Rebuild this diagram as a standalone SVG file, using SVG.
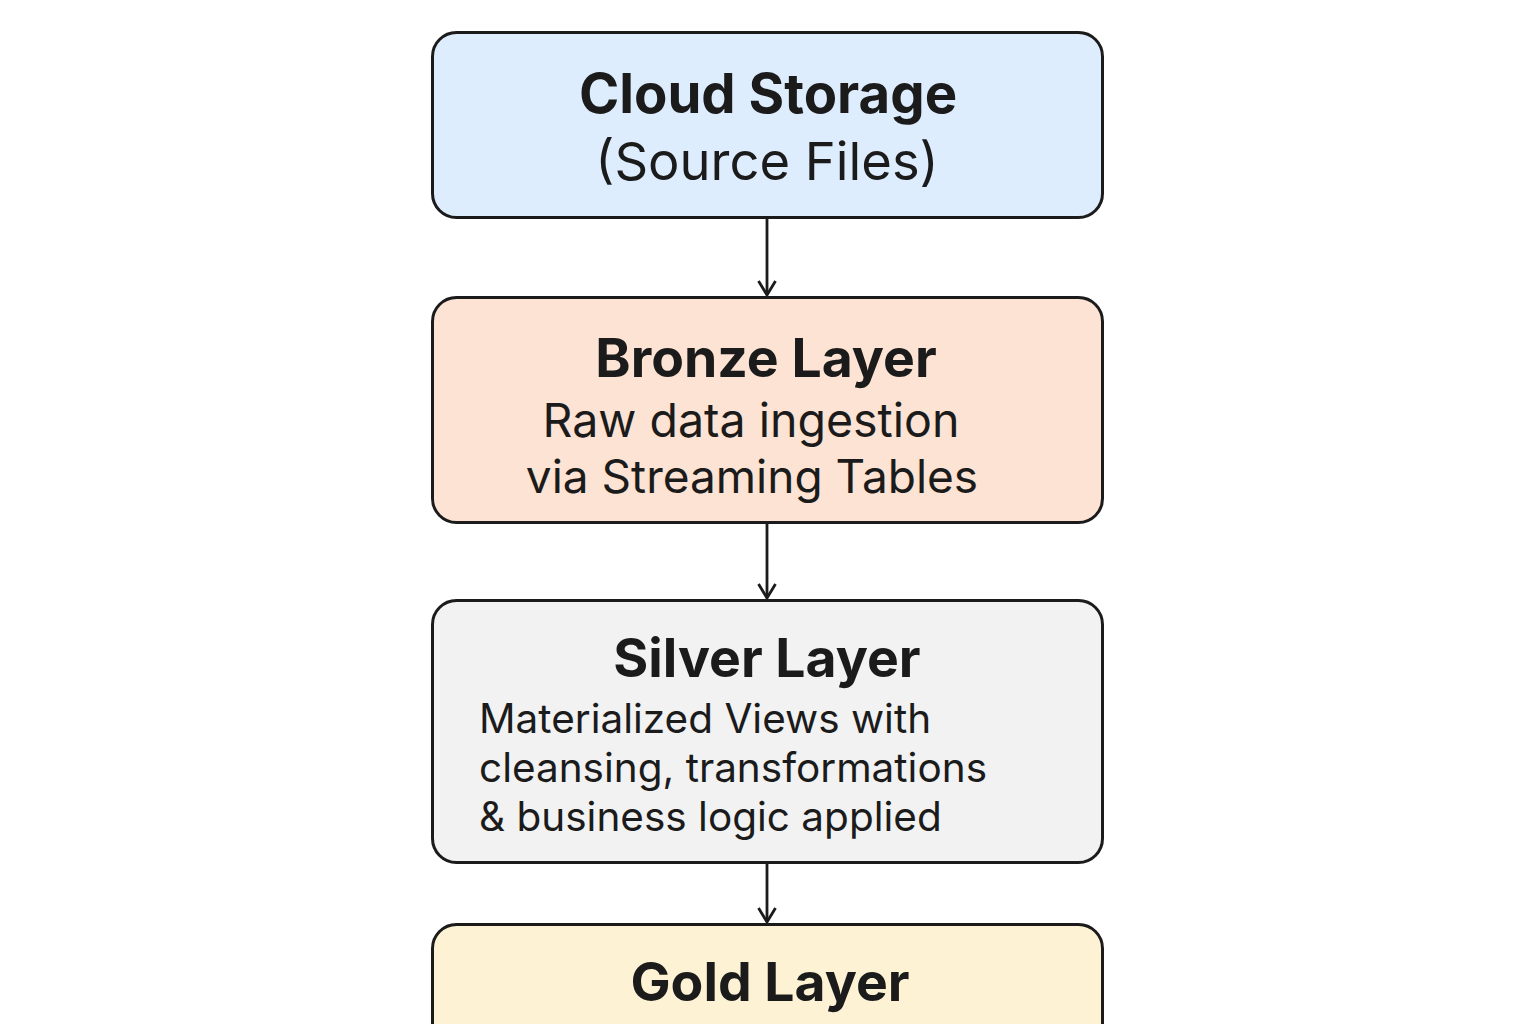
<svg xmlns="http://www.w3.org/2000/svg" width="1536" height="1024" viewBox="0 0 1536 1024">
<defs>
<style>
.box{stroke:#1b1b1b;stroke-width:3}
.t{font-family:Inter,"Noto Sans","Liberation Sans",sans-serif;fill:#1b1b1b}
.h{font-weight:700;font-size:53.5px}
.c{text-anchor:middle}
.conn{stroke:#1b1b1b;stroke-width:2.8;fill:none}
</style>
<marker id="arr" viewBox="0 0 20 20" refX="18" refY="10" markerWidth="20" markerHeight="20" markerUnits="userSpaceOnUse" orient="auto">
<path d="M4,1.5 L18,10 L4,18.5" fill="none" stroke="#1b1b1b" stroke-width="2.8"/>
</marker>
</defs>
<rect width="1536" height="1024" fill="#ffffff"/>
<g id="connectors">
<line class="conn" x1="767" y1="218" x2="767" y2="295" marker-end="url(#arr)"/>
<line class="conn" x1="767" y1="523" x2="767" y2="598" marker-end="url(#arr)"/>
<line class="conn" x1="767" y1="863" x2="767" y2="922" marker-end="url(#arr)"/>
</g>
<g id="cloud-storage">
<rect class="box" x="432.5" y="32.5" width="670" height="185" rx="24" fill="#deedfd"/>
<text class="t h c" x="768" y="113" style="font-size:54.5px">Cloud Storage</text>
<text class="t c" x="767" y="180" style="font-size:52.5px">(Source Files)</text>
</g>
<g id="bronze-layer">
<rect class="box" x="432.5" y="297.5" width="670" height="225" rx="24" fill="#fde3d3"/>
<text class="t h c" x="766" y="377">Bronze Layer</text>
<text class="t c" x="751" y="437" style="font-size:46.5px">Raw data ingestion</text>
<text class="t c" x="752" y="493" style="font-size:46px">via Streaming Tables</text>
</g>
<g id="silver-layer">
<rect class="box" x="432.5" y="600.5" width="670" height="262" rx="24" fill="#f2f2f2"/>
<text class="t h c" x="767" y="677">Silver Layer</text>
<text class="t" x="479" y="733" style="font-size:40.5px">Materialized Views with</text>
<text class="t" x="479" y="782" style="font-size:40.5px">cleansing, transformations</text>
<text class="t" x="479" y="831" style="font-size:40.5px">&amp; business logic applied</text>
</g>
<g id="gold-layer">
<rect class="box" x="432.5" y="924.5" width="670" height="130" rx="24" fill="#fef2d5"/>
<text class="t h c" x="770" y="1001">Gold Layer</text>
</g>
</svg>
